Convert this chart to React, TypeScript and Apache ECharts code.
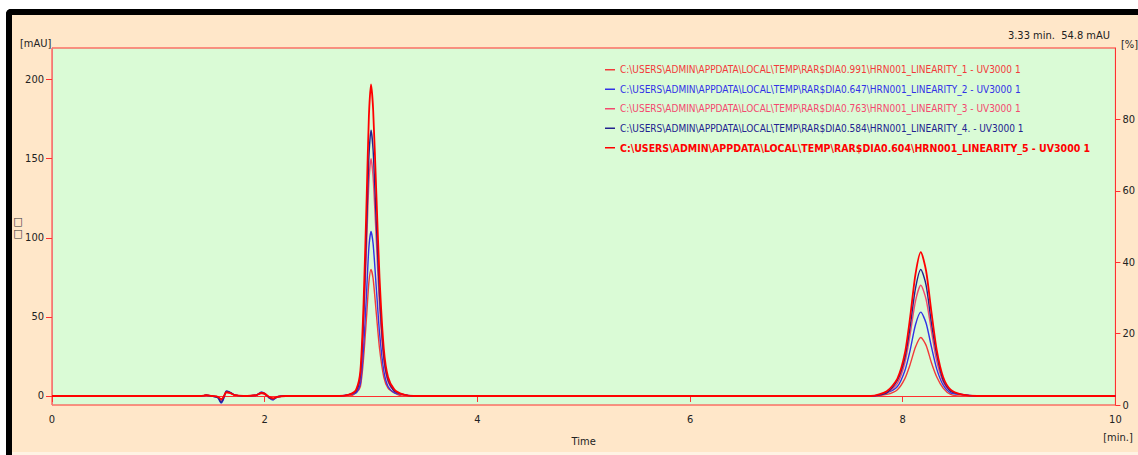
import React, { useEffect, useRef } from "react";
import * as echarts from "echarts";

// Retention time (min) sampling points shared by all traces
const TIMES = [
  0, 1.4, 1.45, 1.5, 1.56, 1.59, 1.61, 1.64, 1.67, 1.72, 1.8, 1.92, 1.97, 2.0, 2.04, 2.08, 2.12, 2.2, 2.7,
  2.8, 2.86, 2.9, 2.93, 2.96, 2.98, 3.0, 3.02, 3.05, 3.08, 3.12, 3.16, 3.22, 3.3, 3.4,
  7.7, 7.85, 7.95, 8.02, 8.07, 8.12, 8.17, 8.22, 8.27, 8.32, 8.38, 8.45, 8.55, 8.7, 10,
];

// Absorbance (mAU) for each run
const S1 = [
  0, 0, 0.5, 0, -0.5, -2.5, -1, 2, 2, 0.5, 0, 0.5, 1.5, 1, -0.5, -1.5, -0.5, 0, 0,
  0, 2, 6, 24, 52, 72, 80, 74, 52, 30, 12, 5, 2, 0, 0,
  0, 1, 4, 11, 20, 31, 37, 32, 21, 12, 5, 1, 0, 0, 0,
];
const S2 = [
  0, 0, 0.5, 0, -1, -4.5, -2.5, 3, 2.5, 0.5, 0, 0.5, 2.5, 1.5, -1, -2.5, -0.5, 0, 0,
  1, 2, 8, 31, 68, 94, 104, 96, 68, 40, 16, 6, 2, 1, 0,
  0, 2, 6, 16, 29, 45, 53, 46, 31, 17, 7, 2, 1, 0, 0,
];
const S3 = [
  0, 0, 0.5, 0, -0.5, -3, -1.5, 2.5, 2, 0.5, 0, 0.5, 2, 1.5, -1, -2, -0.5, 0, 0,
  1, 3, 12, 45, 98, 135, 150, 138, 98, 57, 23, 9, 3, 1, 0,
  0, 2, 8, 21, 39, 60, 70, 61, 41, 22, 9, 3, 1, 0, 0,
];
const S4 = [
  0, 0, 0.5, 0, -1, -4, -2, 3, 2.5, 0.5, 0, 0.5, 2, 1.5, -1, -2, -0.5, 0, 0,
  1, 3, 13, 50, 109, 151, 168, 155, 109, 64, 25, 10, 3, 1, 0,
  0, 2, 10, 24, 44, 68, 80, 70, 46, 26, 10, 3, 1, 0, 0,
];
const S5 = [
  0, 0, 0.5, 0, -0.5, -2, -1, 2.5, 2, 0.5, 0, 0.5, 2, 1.5, -0.5, -1.5, -0.5, 0, 0,
  1, 4, 16, 59, 128, 177, 197, 181, 128, 75, 30, 12, 4, 1, 0,
  0, 3, 11, 27, 50, 77, 91, 79, 53, 29, 12, 4, 1, 0, 0,
];

const SERIES_NAMES = [
  String.raw`C:\USERS\ADMIN\APPDATA\LOCAL\TEMP\RAR$DIA0.991\HRN001_LINEARITY_1 - UV3000 1`,
  String.raw`C:\USERS\ADMIN\APPDATA\LOCAL\TEMP\RAR$DIA0.647\HRN001_LINEARITY_2 - UV3000 1`,
  String.raw`C:\USERS\ADMIN\APPDATA\LOCAL\TEMP\RAR$DIA0.763\HRN001_LINEARITY_3 - UV3000 1`,
  String.raw`C:\USERS\ADMIN\APPDATA\LOCAL\TEMP\RAR$DIA0.584\HRN001_LINEARITY_4. - UV3000 1`,
  String.raw`C:\USERS\ADMIN\APPDATA\LOCAL\TEMP\RAR$DIA0.604\HRN001_LINEARITY_5 - UV3000 1`,
];
const SERIES_VALUES = [S1, S2, S3, S4, S5];
const SERIES_COLORS = ["#F23A3A", "#3232E6", "#F4486E", "#222290", "#FF0000"];

const LEFT_TICKS = [0, 50, 100, 150, 200];
const RIGHT_TICKS = [0, 20, 40, 60, 80];

const FONT = "'Liberation Sans Narrow', 'DejaVu Sans Condensed', 'Liberation Sans', sans-serif";
const PEACH = "#FFE7C9";
const GREEN = "#DAFBD6";
const FRAME = "#FF3030";

export default function App() {
  const ref = useRef<HTMLDivElement>(null);

  useEffect(() => {
    if (!ref.current) return;
    const chart = echarts.init(ref.current, null, { renderer: "svg" });
    const series = SERIES_VALUES.map((vals, k) => ({
      name: SERIES_NAMES[k],
      type: "line",
      data: TIMES.map((t, i) => [t, vals[i]]),
      showSymbol: false,
      symbol: "none",
      smooth: 0.25,
      lineStyle: { color: SERIES_COLORS[k], width: k === 4 ? 1.8 : 1.4 },
      itemStyle: { color: SERIES_COLORS[k] },
      z: 3,
    }));

    chart.setOption({
      animation: false,
      backgroundColor: "transparent",
      textStyle: { fontFamily: FONT },
      grid: {
        left: 52,
        right: 20,
        top: 48,
        bottom: 50,
        show: true,
        backgroundColor: GREEN,
        borderColor: FRAME,
        borderWidth: 1,
      },
      legend: {
        orient: "vertical",
        left: 605,
        top: 63,
        padding: 0,
        itemWidth: 10,
        itemHeight: 1.5,
        itemGap: 6,
        icon: "rect",
        textStyle: { fontSize: 10, lineHeight: 13.5, fontFamily: FONT },
        data: SERIES_NAMES.map((n, k) => ({
          name: n,
          textStyle: {
            color: SERIES_COLORS[k],
            fontWeight: k === 4 ? "bold" : "normal",
            fontSize: k === 4 ? 10.5 : 10,
          },
        })),
      },
      xAxis: {
        type: "value",
        min: 0,
        max: 10,
        interval: 2,
        name: "Time",
        nameLocation: "middle",
        nameGap: 31,
        nameTextStyle: { color: "#222", fontSize: 11, fontFamily: FONT },
        axisLine: { show: true, lineStyle: { color: FRAME, width: 1 } },
        axisTick: { show: true, length: 6, lineStyle: { color: FRAME } },
        axisLabel: { color: "#222", fontSize: 11, margin: 9, fontFamily: FONT },
        splitLine: { show: false },
      },
      yAxis: [
        {
          type: "value",
          min: -5.7,
          max: 220,
          position: "left",
          axisLine: { show: true, lineStyle: { color: "#F07878", width: 1 } },
          axisTick: {
            show: true,
            length: 6,
            customValues: LEFT_TICKS,
            lineStyle: { color: FRAME },
          },
          axisLabel: {
            color: "#222",
            fontSize: 11,
            margin: 8,
            fontFamily: FONT,
            customValues: LEFT_TICKS,
          },
          splitLine: { show: false },
        },
        {
          type: "value",
          min: 0,
          max: 100,
          position: "right",
          axisLine: { show: true, lineStyle: { color: FRAME, width: 1 } },
          axisTick: {
            show: true,
            length: 5,
            customValues: RIGHT_TICKS,
            lineStyle: { color: FRAME },
          },
          axisLabel: {
            color: "#222",
            fontSize: 11,
            margin: 7,
            fontFamily: FONT,
            customValues: RIGHT_TICKS,
          },
          splitLine: { show: false },
        },
      ],
      graphic: [
        {
          type: "text",
          x: 20,
          y: 43,
          style: { text: "[mAU]", fill: "#222", font: `11px ${FONT}`, align: "left", verticalAlign: "middle" },
        },
        {
          type: "text",
          x: 18,
          y: 227,
          style: { text: "□\n□", fill: "#333", font: `11px ${FONT}`, align: "center", verticalAlign: "middle", lineHeight: 12 },
        },
        {
          type: "text",
          x: 1110,
          y: 35,
          style: { text: "3.33 min.  54.8 mAU", fill: "#222", font: `11px ${FONT}`, align: "right", verticalAlign: "middle" },
        },
        {
          type: "text",
          x: 1121,
          y: 44,
          style: { text: "[%]", fill: "#222", font: `11px ${FONT}`, align: "left", verticalAlign: "middle" },
        },
        {
          type: "text",
          x: 1118,
          y: 437,
          style: { text: "[min.]", fill: "#222", font: `11px ${FONT}`, align: "center", verticalAlign: "middle" },
        },
      ],
      series,
    });
    return () => chart.dispose();
  }, []);

  return (
    <div
      style={{
        position: "fixed",
        left: 0,
        top: 0,
        width: 1138,
        height: 455,
        background: "#ffffff",
        overflow: "hidden",
      }}
    >
      <div
        style={{
          position: "absolute",
          left: 6,
          top: 9,
          width: 1132,
          height: 446,
          background: PEACH,
          borderTop: "6px solid #000",
          borderLeft: "6px solid #000",
          borderTopLeftRadius: 5,
          boxSizing: "border-box",
        }}
      />
      <div
        style={{
          position: "absolute",
          left: 12,
          top: 452,
          width: 1126,
          height: 3,
          background: "#FFF3E4",
        }}
      />
      <div ref={ref} style={{ position: "absolute", left: 0, top: 0, width: 1138, height: 455 }} />
    </div>
  );
}
